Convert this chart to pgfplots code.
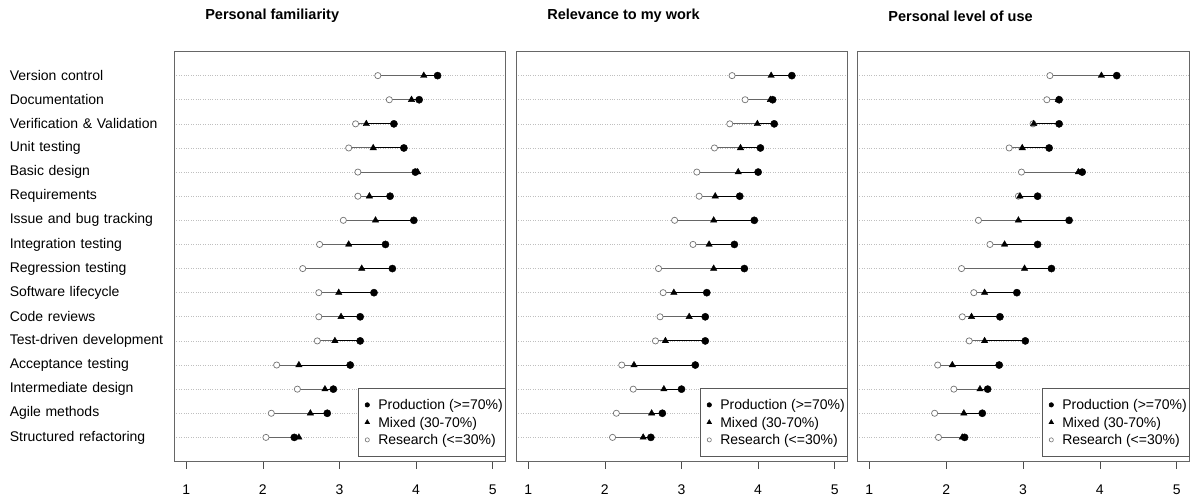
\documentclass[border=0pt]{standalone}
\usepackage{pgfplots}
\usepackage{pgfplotstable}
\pgfplotsset{compat=1.18}
\usepackage{fontspec}
\setmainfont{Liberation Sans}

\pgfplotstableread{
y p m r
1 4.28 4.10 3.50
2 4.04 3.94 3.65
3 3.71 3.35 3.21
4 3.84 3.44 3.12
5 3.99 4.02 3.24
6 3.66 3.39 3.24
7 3.97 3.47 3.05
8 3.60 3.12 2.74
9 3.69 3.29 2.52
10 3.45 2.99 2.73
11 3.27 3.02 2.73
12 3.27 2.94 2.71
13 3.14 2.47 2.18
14 2.92 2.81 2.45
15 2.84 2.62 2.11
16 2.41 2.47 2.04
}\famtab

\pgfplotstableread{
y p m r
1 4.44 4.17 3.66
2 4.19 4.16 3.83
3 4.21 3.99 3.63
4 4.03 3.77 3.43
5 4.00 3.74 3.20
6 3.76 3.44 3.23
7 3.95 3.42 2.91
8 3.69 3.36 3.15
9 3.82 3.42 2.70
10 3.33 2.90 2.76
11 3.31 3.10 2.72
12 3.31 2.79 2.66
13 3.18 2.38 2.22
14 3.00 2.77 2.37
15 2.75 2.61 2.15
16 2.60 2.50 2.10
}\reltab

\pgfplotstableread{
y p m r
1 4.22 4.02 3.35
2 3.47 3.46 3.31
3 3.47 3.14 3.13
4 3.34 2.99 2.82
5 3.77 3.72 2.98
6 3.19 2.96 2.94
7 3.60 2.94 2.42
8 3.19 2.76 2.57
9 3.37 3.02 2.20
10 2.92 2.50 2.36
11 2.70 2.33 2.21
12 3.03 2.50 2.30
13 2.69 2.08 1.89
14 2.54 2.44 2.10
15 2.47 2.23 1.85
16 2.24 2.21 1.90
}\usetab

\pgfplotsset{
  panel/.style={
    scale only axis, width=331pt, height=410pt,
    anchor=south west,
    xmin=0.84, xmax=5.16, ymin=0, ymax=17, y dir=reverse,
    xtick={1,2,3,4,5}, ytick={1,...,16},
    xtick pos=left,
    tick align=outside, major tick length=7pt,
    xtick style={black!70, line width=0.6pt},
    ytick style={draw=none},
    xticklabel style={anchor=center, yshift=-21.5pt},
    /pgf/number format/assume math mode=true,
    axis line style={black!60, line width=0.7pt},
    ymajorgrids, grid style={black!25, dotted, line width=0.6pt},
    font=\fontsize{14}{16}\selectfont,
    title style={anchor=west, at={(0.094,1.0866)}, yshift=-6pt, inner sep=0pt, font=\fontsize{14.5}{16}\selectfont\bfseries},
    clip=false,
    legend style={at={(1,0.012)}, anchor=south east, draw=black!65, fill=white,
      inner xsep=2pt, inner ysep=9.5pt, row sep=3.5pt, column sep=8pt,
      font=\fontsize{14}{16}\selectfont,
      nodes={inner sep=0pt, text height=12pt, text depth=2pt, anchor=west}},
    legend cell align=left,
    legend image code/.code={\path[draw=none, fill=none] (-7pt,-2pt) rectangle (3pt,2pt); \draw[##1] plot coordinates {(0pt,0pt)};},
  },
  segR/.style={forget plot, draw=none, mark=none,
    error bars/.cd, x dir=minus, x explicit, error mark=none,
    error bar style={black!60, line width=1pt}},
  segP/.style={forget plot, draw=none, mark=none,
    error bars/.cd, x dir=plus, x explicit, error mark=none,
    error bar style={black, line width=1pt}},
  mR/.style={forget plot, only marks, mark=*, mark size=3.1pt, mark options={draw=black!55, fill=white, line width=0.7pt}},
  mM/.style={forget plot, only marks, mark=triangle*, mark size=3.7pt, mark options={draw=black, fill=black}},
  mP/.style={forget plot, only marks, mark=*, mark size=3.6pt, mark options={draw=black, fill=black}},
}

\newcommand{\panelplots}[1]{%
  \addlegendimage{only marks, mark=*, mark size=2.3pt, black}
  \addlegendentry{Production (>=70\%)}
  \addlegendimage{only marks, mark=triangle*, mark size=2.8pt, black}
  \addlegendentry{Mixed (30-70\%)}
  \addlegendimage{only marks, mark=*, mark size=2.1pt, mark options={draw=black!55, fill=white, line width=0.6pt}}
  \addlegendentry{Research (<=30\%)}
  \addplot[segR] table[x=m, y=y, x error minus expr=\thisrow{m}-\thisrow{r}] {#1};
  \addplot[segP] table[x=m, y=y, x error plus expr=\thisrow{p}-\thisrow{m}] {#1};
  \addplot[mR] table[x=r, y=y] {#1};
  \addplot[mM] table[x=m, y=y] {#1};
  \addplot[mP] table[x=p, y=y] {#1};
}

\begin{document}
\begin{tikzpicture}
\useasboundingbox (0,0) rectangle (1193pt,500pt);

\begin{axis}[panel, at={(174pt,38.5pt)},
  title={Personal familiarity},
  yticklabels={Version control, Documentation, Verification \& Validation, Unit testing, Basic design, Requirements, Issue and bug tracking, Integration testing, Regression testing, Software lifecycle, Code reviews, Test-driven development, Acceptance testing, Intermediate design, Agile methods, Structured refactoring},
  yticklabel style={anchor=east, text width=158pt, align=left, inner sep=0pt, xshift=1pt},
]
\panelplots{\famtab}
\end{axis}

\begin{axis}[panel, at={(516pt,38.5pt)},
  title={Relevance to my work}, yticklabels={},
]
\panelplots{\reltab}
\end{axis}

\begin{axis}[panel, at={(857pt,38.5pt)}, width=332pt,
  title={Personal level of use}, yticklabels={},
]
\panelplots{\usetab}
\end{axis}
\end{tikzpicture}
\end{document}
